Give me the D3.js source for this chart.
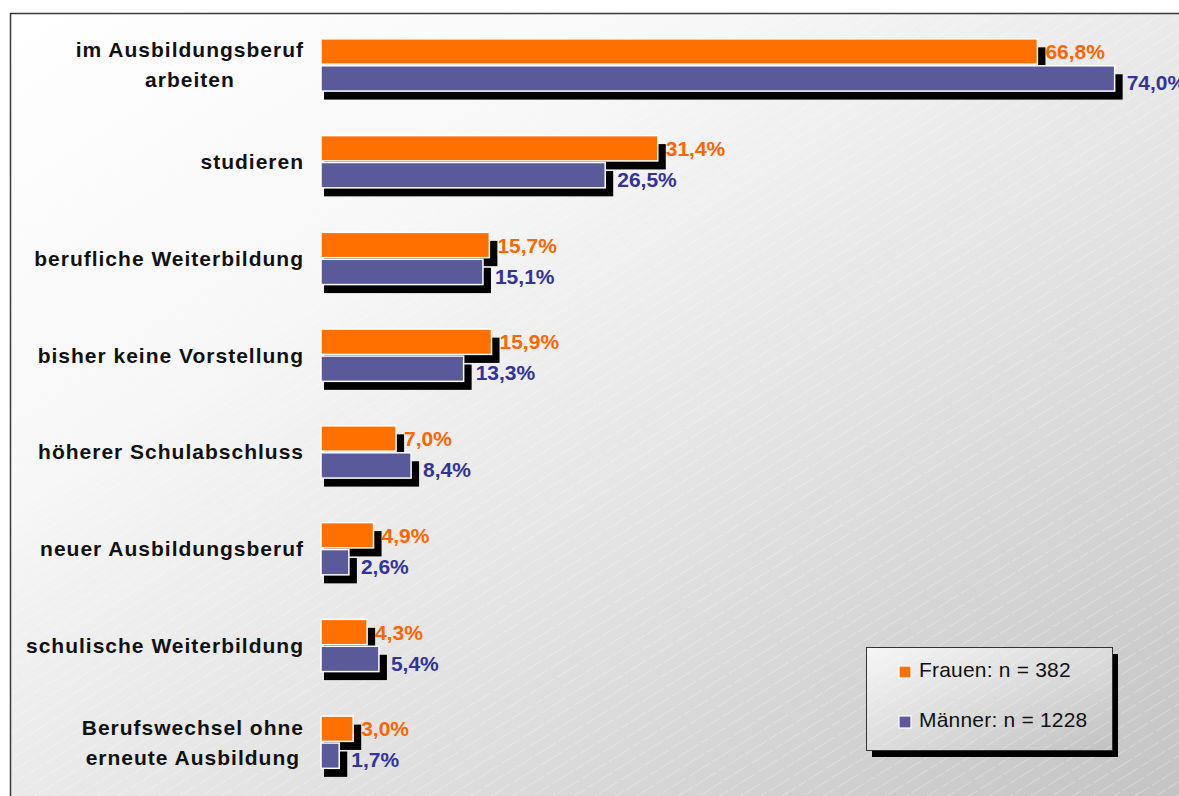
<!DOCTYPE html>
<html>
<head>
<meta charset="utf-8">
<script src="https://cdn.jsdelivr.net/npm/d3@7"></script>
<style>
  html, body { margin: 0; padding: 0; background: #ffffff; }
  svg { display: block; }
  text { font-family: "Liberation Sans", Arial, sans-serif; }
</style>
</head>
<body>
<svg id="chart" width="1179" height="796"></svg>
<script>
// Categories (line breaks marked with \n), top to bottom
const categories = [
  "im Ausbildungsberuf\narbeiten",
  "studieren",
  "berufliche Weiterbildung",
  "bisher keine Vorstellung",
  "höherer Schulabschluss",
  "neuer Ausbildungsberuf",
  "schulische Weiterbildung",
  "Berufswechsel ohne\nerneute Ausbildung"
];
// Shares in percent
const frauen  = [66.8, 31.4, 15.7, 15.9, 7.0, 4.9, 4.3, 3.0];
const maenner = [74.0, 26.5, 15.1, 13.3, 8.4, 2.6, 5.4, 1.7];
const seriesKeys = ["frauen", "maenner"];
const legendLabels = ["Frauen: n = 382", "Männer: n = 1228"];
const xDomain = [0, 80];

const barColors   = { frauen: "#ff7000", maenner: "#5a5a9a" };
const labelColors = { frauen: "#ff6600", maenner: "#333399" };

const svg = d3.select("#chart");
const defs = svg.append("defs");

// Backgrounds: diagonal white-to-grey fill with faint light hatching
const bg = defs.append("linearGradient").attr("id", "bgGrad")
  .attr("x1", 0).attr("y1", 0).attr("x2", 1).attr("y2", 1);
bg.append("stop").attr("offset", 0).attr("stop-color", "#ffffff");
bg.append("stop").attr("offset", 0.3).attr("stop-color", "#f7f7f7");
bg.append("stop").attr("offset", 0.6).attr("stop-color", "#e2e2e2");
bg.append("stop").attr("offset", 1).attr("stop-color", "#c2c2c2");

const lg = defs.append("linearGradient").attr("id", "legGrad")
  .attr("x1", 0).attr("y1", 0).attr("x2", 1).attr("y2", 1);
lg.append("stop").attr("offset", 0).attr("stop-color", "#f6f6f6");
lg.append("stop").attr("offset", 1).attr("stop-color", "#c2c2c2");

const hatch = defs.append("pattern").attr("id", "hatch")
  .attr("patternUnits", "userSpaceOnUse")
  .attr("width", 60).attr("height", 11)
  .attr("patternTransform", "rotate(-32)");
hatch.append("line").attr("x1", 0).attr("y1", 0.5).attr("x2", 60).attr("y2", 0.5)
  .attr("stroke", "#ffffff").attr("stroke-width", 0.8).attr("stroke-opacity", 0.35)
  .attr("stroke-dasharray", "18 3 9 2");

// Chart frame
const frame = { x: 10.5, y: 13.5, w: 1190, h: 800 };
svg.append("rect").attr("x", frame.x).attr("y", frame.y)
  .attr("width", frame.w).attr("height", frame.h)
  .attr("fill", "url(#bgGrad)");
svg.append("rect").attr("x", frame.x).attr("y", frame.y)
  .attr("width", frame.w).attr("height", frame.h)
  .attr("fill", "url(#hatch)");
svg.append("rect").attr("x", frame.x).attr("y", frame.y)
  .attr("width", frame.w).attr("height", frame.h)
  .attr("fill", "none").attr("stroke", "#3a3a3a").attr("stroke-width", 1.5);

// Scales
const x = d3.scaleLinear().domain(xDomain).range([321, 1179]);
const y = d3.scaleBand().domain(categories).range([16.6, 790.6])
  .paddingInner(0.46).paddingOuter(0.23);
const ySub = d3.scaleBand().domain(seriesKeys).range([0, y.bandwidth()])
  .paddingInner(0.06);

const rows = categories.map((c, i) => ({ cat: c, frauen: frauen[i], maenner: maenner[i] }));
const bars = rows.flatMap(r => seriesKeys.map(k => ({ cat: r.cat, key: k, value: r[k] })));

const fmt = v => d3.format(".1f")(v).replace(".", ",") + "%";

// Drop shadows behind the bars
svg.append("g").selectAll("rect").data(bars).join("rect")
  .attr("x", x(0) + 3)
  .attr("y", d => y(d.cat) + ySub(d.key) + 8.5)
  .attr("width", d => x(d.value) - x(0) + 5)
  .attr("height", ySub.bandwidth())
  .attr("fill", "#000000");

// Bars
svg.append("g").selectAll("rect").data(bars).join("rect")
  .attr("x", x(0))
  .attr("y", d => y(d.cat) + ySub(d.key))
  .attr("width", d => x(d.value) - x(0))
  .attr("height", ySub.bandwidth())
  .attr("fill", d => barColors[d.key])
  .attr("stroke", "#ffffff").attr("stroke-width", 1.5);

// Value labels
const labelShift = { frauen: { dx: 8, dy: 0 }, maenner: { dx: 12, dy: 4 } };
svg.append("g").selectAll("text").data(bars).join("text")
  .attr("x", d => x(d.value) + labelShift[d.key].dx)
  .attr("y", d => y(d.cat) + ySub(d.key) + ySub.bandwidth() / 2 + labelShift[d.key].dy)
  .attr("dy", "0.36em")
  .attr("font-size", 21).attr("font-weight", "bold")
  .attr("fill", d => labelColors[d.key])
  .text(d => fmt(d.value));

// Category labels, right edge at 303, multi-line labels centred on their widest line
const catG = svg.append("g");
categories.forEach(c => {
  const lines = c.split("\n");
  const cy = y(c) + y.bandwidth() / 2;
  const t = catG.append("text")
    .attr("font-size", 21).attr("font-weight", "bold")
    .attr("letter-spacing", 1).attr("fill", "#111111");
  lines.forEach((ln, i) => {
    t.append("tspan").attr("y", cy + (i - (lines.length - 1) / 2) * 30 + 7.5).text(ln);
  });
  const widths = t.selectAll("tspan").nodes().map(n => n.getComputedTextLength());
  const maxW = d3.max(widths);
  if (lines.length === 1) {
    t.attr("text-anchor", "end");
    t.selectAll("tspan").attr("x", 303 + 1);
  } else {
    t.attr("text-anchor", "middle");
    t.selectAll("tspan").attr("x", 303 + 1 - maxW / 2);
  }
});

// Legend
const leg = { x: 866, y: 647, w: 246, h: 103 };
svg.append("rect").attr("x", leg.x + 6).attr("y", leg.y + 7)
  .attr("width", leg.w).attr("height", leg.h).attr("fill", "#000000");
svg.append("rect").attr("x", leg.x).attr("y", leg.y)
  .attr("width", leg.w).attr("height", leg.h).attr("fill", "url(#legGrad)");
svg.append("rect").attr("x", leg.x).attr("y", leg.y)
  .attr("width", leg.w).attr("height", leg.h).attr("fill", "url(#hatch)");
svg.append("rect").attr("x", leg.x + 0.5).attr("y", leg.y + 0.5)
  .attr("width", leg.w).attr("height", leg.h)
  .attr("fill", "none").attr("stroke", "#333333").attr("stroke-width", 1);

const legItems = svg.append("g").selectAll("g").data(seriesKeys).join("g")
  .attr("transform", (d, i) => `translate(${leg.x + 33},${leg.y + 19 + i * 50})`);
legItems.append("rect").attr("x", 0).attr("y", 0).attr("width", 12).attr("height", 12)
  .attr("fill", d => barColors[d]).attr("stroke", "#ffffff").attr("stroke-width", 1.2);
legItems.append("text").attr("x", 20).attr("y", 11)
  .attr("font-size", 21).attr("letter-spacing", 0.2).attr("fill", "#111111")
  .text((d, i) => legendLabels[i]);
</script>
</body>
</html>
